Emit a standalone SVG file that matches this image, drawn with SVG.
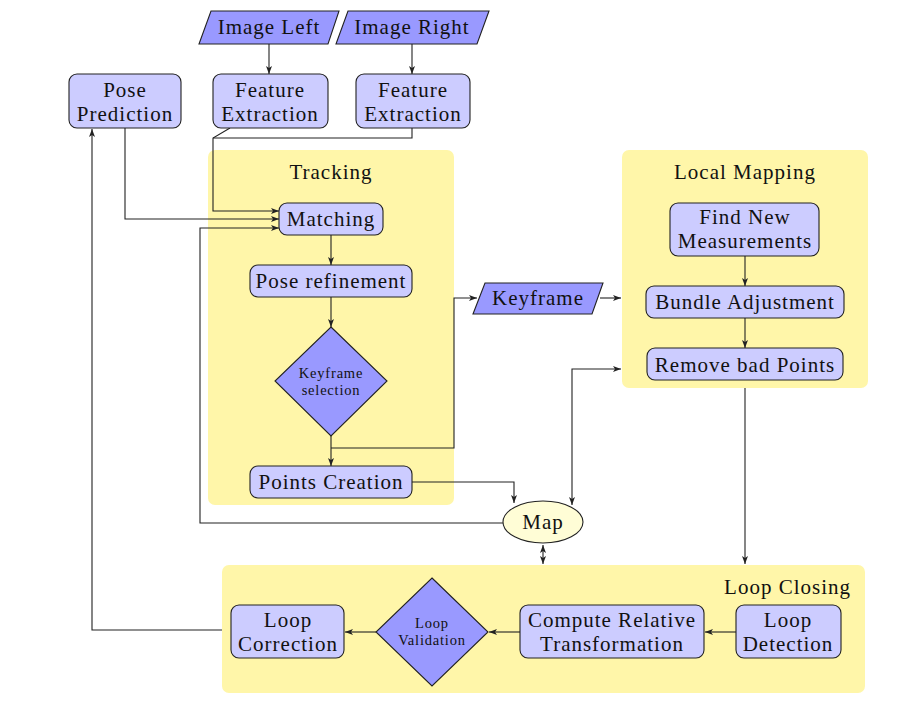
<svg xmlns="http://www.w3.org/2000/svg" width="911" height="701" viewBox="0 0 911 701" font-family="'Liberation Serif', 'DejaVu Serif', serif">
<style>
text{font-family:'Liberation Serif','DejaVu Serif',serif;font-size:21px;letter-spacing:1px;fill:#111;text-anchor:middle}
.sm{font-size:14.5px;letter-spacing:0.8px}
.panel{fill:#FFF6A9;stroke:none}
.box{fill:#CCCCFF;stroke:#222;stroke-width:1.1}
.dark{fill:#9999FF;stroke:#222;stroke-width:1.1}
.map{fill:#FFFDD6;stroke:#222;stroke-width:1.1}
.c{fill:none;stroke:#222;stroke-width:1.1}
</style>
<defs>
<marker id="a" viewBox="0 0 8 6" refX="8" refY="3" markerWidth="8" markerHeight="6" markerUnits="userSpaceOnUse" orient="auto-start-reverse">
<path d="M0,0 L8,3 L0,6 L2,3 Z" fill="#222"/>
</marker>
</defs>
<g id="panels">
<g id="tracking"><rect class="panel" x="208" y="150" width="246" height="355" rx="7"/><text x="331" y="179">Tracking</text></g>
<g id="localmapping"><rect class="panel" x="622" y="150" width="246" height="238" rx="7"/><text x="745" y="179">Local Mapping</text></g>
<g id="loopclosing"><rect class="panel" x="222" y="565" width="643" height="128" rx="7"/><text x="851" y="594" style="text-anchor:end">Loop Closing</text></g>
</g>
<g id="connectors">
<path class="c" d="M269 44 V74" marker-end="url(#a)"/>
<path class="c" d="M412 44 V74" marker-end="url(#a)"/>
<path class="c" d="M230 128 L213 138 V211 H279" marker-end="url(#a)"/>
<path class="c" d="M412 128 V138 H213"/>
<path class="c" d="M125 128 V219 H279" marker-end="url(#a)"/>
<path class="c" d="M503 523 H200 V228 H279" marker-end="url(#a)"/>
<path class="c" d="M331 235 V265" marker-end="url(#a)"/>
<path class="c" d="M331 297 V327" marker-end="url(#a)"/>
<path class="c" d="M331 436 V466" marker-end="url(#a)"/>
<path class="c" d="M331 448 H454 V298 H477" marker-end="url(#a)"/>
<path class="c" d="M600 298 H621" marker-end="url(#a)"/>
<path class="c" d="M745 256 V286" marker-end="url(#a)"/>
<path class="c" d="M745 318 V348" marker-end="url(#a)"/>
<path class="c" d="M412 482 H514 V503" marker-end="url(#a)"/>
<path class="c" d="M572 505 V369 H621" marker-start="url(#a)" marker-end="url(#a)"/>
<path class="c" d="M745 388 V564" marker-end="url(#a)"/>
<path class="c" d="M543 545 V564" marker-start="url(#a)" marker-end="url(#a)"/>
<path class="c" d="M736 632 H705" marker-end="url(#a)"/>
<path class="c" d="M520 632 H489" marker-end="url(#a)"/>
<path class="c" d="M376 632 H345" marker-end="url(#a)"/>
<path class="c" d="M222 630 H92 V129" marker-end="url(#a)"/>
</g>
<g id="imageleft"><polygon class="dark" points="211,11 339,11 328,44 199,44"/><text x="269" y="34">Image Left</text></g>
<g id="imageright"><polygon class="dark" points="348,11 489,11 477,44 336,44"/><text x="412" y="34">Image Right</text></g>
<g id="posepred"><rect class="box" x="69" y="74" width="112" height="54" rx="8"/><text x="125" y="97">Pose</text><text x="125" y="121">Prediction</text></g>
<g id="fe1"><rect class="box" x="213" y="74" width="115" height="54" rx="8"/><text x="270" y="97">Feature</text><text x="270" y="121">Extraction</text></g>
<g id="fe2"><rect class="box" x="356" y="74" width="114" height="54" rx="8"/><text x="413" y="97">Feature</text><text x="413" y="121">Extraction</text></g>
<g id="matching"><rect class="box" x="279" y="203" width="104" height="32" rx="8"/><text x="331" y="226">Matching</text></g>
<g id="poseref"><rect class="box" x="250" y="265" width="162" height="32" rx="8"/><text x="331" y="288">Pose refinement</text></g>
<g id="kfsel"><polygon class="dark" points="331,327 387,381 331,436 275,381"/><text class="sm" x="331" y="378">Keyframe</text><text class="sm" x="331" y="395">selection</text></g>
<g id="points"><rect class="box" x="250" y="466" width="162" height="32" rx="8"/><text x="331" y="489">Points Creation</text></g>
<g id="keyframe"><polygon class="dark" points="485,283 603,283 592,314 473,314"/><text x="538" y="305">Keyframe</text></g>
<g id="findnew"><rect class="box" x="670" y="203" width="149" height="53" rx="8"/><text x="745" y="224">Find New</text><text x="745" y="248">Measurements</text></g>
<g id="ba"><rect class="box" x="646" y="286" width="198" height="32" rx="8"/><text x="745" y="309">Bundle Adjustment</text></g>
<g id="remove"><rect class="box" x="647" y="348" width="196" height="32" rx="8"/><text x="745" y="372">Remove bad Points</text></g>
<g id="map"><ellipse class="map" cx="543" cy="522" rx="40" ry="21"/><text x="543" y="529">Map</text></g>
<g id="loopcorr"><rect class="box" x="231" y="605" width="113" height="53" rx="8"/><text x="288" y="627">Loop</text><text x="288" y="651">Correction</text></g>
<g id="loopval"><polygon class="dark" points="432,578 488,632 432,686 376,632"/><text class="sm" x="432" y="628">Loop</text><text class="sm" x="432" y="645">Validation</text></g>
<g id="compute"><rect class="box" x="520" y="605" width="184" height="53" rx="8"/><text x="612" y="627">Compute Relative</text><text x="612" y="651">Transformation</text></g>
<g id="loopdet"><rect class="box" x="736" y="605" width="105" height="53" rx="8"/><text x="788" y="627">Loop</text><text x="788" y="651">Detection</text></g>
</svg>
